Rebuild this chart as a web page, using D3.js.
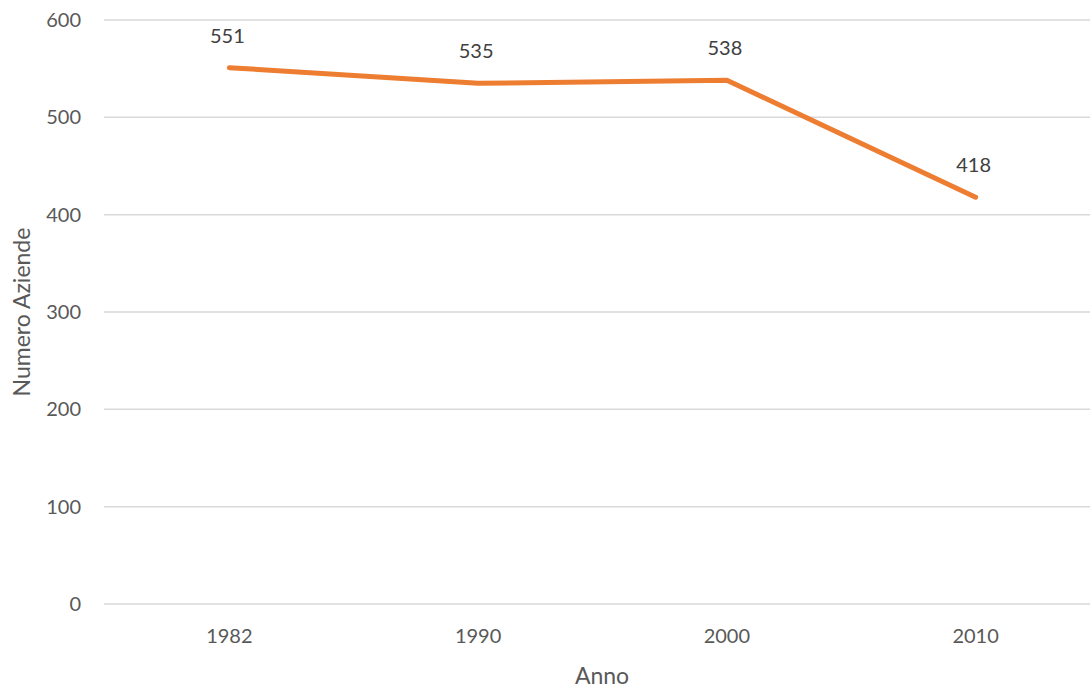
<!DOCTYPE html>
<html>
<head>
<meta charset="utf-8">
<script src="https://cdn.jsdelivr.net/npm/d3@7"></script>
<style>
  body { margin: 0; background: #fff; }
  svg text { font-family: Lato, "Open Sans", sans-serif; fill: #595959; }
</style>
</head>
<body>
<svg id="chart" width="1090" height="689"></svg>
<script>
// chart data
const years = ["1982", "1990", "2000", "2010"];
const aziende = [551, 535, 538, 418];
const yTicks = [0, 100, 200, 300, 400, 500, 600];

const colors = {
  line: "#ED7D31",
  grid: "#d9d9d9",
  text: "#595959",
};

const width = 1090;
const height = 689;
const margin = { top: 20, right: -10, bottom: 85, left: 105 };

const svg = d3.select("#chart");

const x = d3
  .scaleBand()
  .domain(years)
  .range([margin.left, width - margin.right]);

const y = d3
  .scaleLinear()
  .domain([0, 600])
  .range([height - margin.bottom, margin.top]);

// horizontal gridlines
svg
  .append("g")
  .selectAll("line")
  .data(yTicks)
  .join("line")
  .attr("x1", margin.left - 1)
  .attr("x2", width)
  .attr("y1", (d) => y(d))
  .attr("y2", (d) => y(d))
  .attr("stroke", colors.grid)
  .attr("stroke-width", 1.5);

// y tick labels
svg
  .append("g")
  .selectAll("text")
  .data(yTicks)
  .join("text")
  .attr("x", 81)
  .attr("y", (d) => y(d))
  .attr("dy", "0.35em")
  .attr("text-anchor", "end")
  .style("font-size", "20px")
  .text((d) => d);

// x tick labels
svg
  .append("g")
  .selectAll("text")
  .data(years)
  .join("text")
  .attr("x", (d) => x(d) + x.bandwidth() / 2)
  .attr("y", 636)
  .attr("dy", "0.35em")
  .attr("text-anchor", "middle")
  .style("font-size", "20px")
  .text((d) => d);

// axis titles
svg
  .append("text")
  .attr("x", 602)
  .attr("y", 676)
  .attr("dy", "0.35em")
  .attr("text-anchor", "middle")
  .style("font-size", "23px")
  .text("Anno");

svg
  .append("text")
  .attr("transform", `translate(22, ${y(300)}) rotate(-90)`)
  .attr("dy", "0.35em")
  .attr("text-anchor", "middle")
  .style("font-size", "23px")
  .text("Numero Aziende");

// the line
const points = years.map((yr, i) => ({ year: yr, value: aziende[i] }));

const line = d3
  .line()
  .x((d) => x(d.year) + x.bandwidth() / 2)
  .y((d) => y(d.value));

svg
  .append("path")
  .datum(points)
  .attr("d", line)
  .attr("fill", "none")
  .attr("stroke", colors.line)
  .attr("stroke-width", 5)
  .attr("stroke-linecap", "round")
  .attr("stroke-linejoin", "round");

// data labels above each point
svg
  .append("g")
  .selectAll("text")
  .data(points)
  .join("text")
  .attr("x", (d) => x(d.year) + x.bandwidth() / 2 - 2)
  .attr("y", (d) => y(d.value) - 32)
  .attr("dy", "0.35em")
  .attr("text-anchor", "middle")
  .style("font-size", "20px")
  .style("fill", "#404040")
  .text((d) => d.value);
</script>
</body>
</html>
